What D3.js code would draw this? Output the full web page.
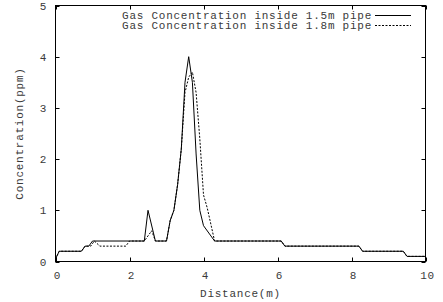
<!DOCTYPE html>
<html>
<head>
<meta charset="utf-8">
<script src="https://cdn.jsdelivr.net/npm/d3@7"></script>
<style>
  body { margin: 0; background: #fff; }
  text { font-family: "Liberation Mono", monospace; font-size: 11px; letter-spacing: 0.75px; fill: #3a3a3a; }
</style>
</head>
<body>
<svg id="chart" width="443" height="302"></svg>
<script>
// x in m, y in ppm
var pipe15X = [0, 0.1, 0.7, 0.8, 0.9, 1.0, 2.4, 2.5, 2.7, 3.0, 3.1, 3.2, 3.3, 3.4, 3.5, 3.6, 3.7, 3.8, 3.9, 4.0, 4.3, 6.1, 6.2, 8.2, 8.3, 9.4, 9.5, 10];
var pipe15Y = [0.05, 0.2, 0.2, 0.3, 0.3, 0.4, 0.4, 1.0, 0.4, 0.4, 0.8, 1.0, 1.5, 2.2, 3.5, 4.0, 3.5, 2.1, 1.0, 0.7, 0.4, 0.4, 0.3, 0.3, 0.2, 0.2, 0.1, 0.1];
var pipe18X = [0, 0.1, 0.7, 0.8, 0.95, 1.05, 1.2, 1.9, 2.0, 2.4, 2.6, 2.7, 3.0, 3.1, 3.2, 3.3, 3.4, 3.5, 3.6, 3.7, 3.8, 3.9, 4.0, 4.1, 4.3, 6.1, 6.2, 8.2, 8.3, 9.4, 9.5, 10];
var pipe18Y = [0.05, 0.2, 0.2, 0.3, 0.3, 0.4, 0.3, 0.3, 0.4, 0.4, 0.6, 0.4, 0.4, 0.8, 1.0, 1.5, 2.2, 3.3, 3.6, 3.7, 3.3, 2.4, 1.3, 1.05, 0.4, 0.4, 0.3, 0.3, 0.2, 0.2, 0.1, 0.1];
var xTicks = [0, 2, 4, 6, 8, 10];
var yTicks = [0, 1, 2, 3, 4, 5];
var seriesNames = ["Gas Concentration inside 1.5m pipe", "Gas Concentration inside 1.8m pipe"];

var mLeft = 55.5, mRight = 425.5, mTop = 5.5, mBottom = 261.5;
var svg = d3.select("#chart");

var x = d3.scaleLinear().domain([0, 10]).range([mLeft, mRight]);
var y = d3.scaleLinear().domain([0, 5]).range([mBottom, mTop]);

var tick = 4;
var axes = svg.append("g").attr("stroke", "#000").attr("stroke-width", 1);

// mirrored inward ticks like gnuplot
xTicks.forEach(function(t) {
  var px = Math.round(x(t)) + 0.5;
  axes.append("line").attr("x1", px).attr("x2", px).attr("y1", mBottom).attr("y2", mBottom - tick);
  axes.append("line").attr("x1", px).attr("x2", px).attr("y1", mTop).attr("y2", mTop + tick);
});
yTicks.forEach(function(t) {
  var py = Math.round(y(t)) + 0.5;
  axes.append("line").attr("y1", py).attr("y2", py).attr("x1", mLeft).attr("x2", mLeft + tick);
  axes.append("line").attr("y1", py).attr("y2", py).attr("x1", mRight).attr("x2", mRight - tick);
});

svg.selectAll("text.xt").data(xTicks).enter().append("text")
  .attr("class", "xt")
  .attr("x", function(d) { return x(d) + 2; })
  .attr("y", 279)
  .attr("text-anchor", "middle")
  .text(function(d) { return d; });

svg.selectAll("text.yt").data(yTicks).enter().append("text")
  .attr("class", "yt")
  .attr("x", 47)
  .attr("y", function(d) { return y(d) + 4; })
  .attr("text-anchor", "end")
  .text(function(d) { return d; });

svg.append("text")
  .attr("x", (mLeft + mRight) / 2)
  .attr("y", 297)
  .attr("text-anchor", "middle")
  .text("Distance(m)");

svg.append("text")
  .attr("transform", "translate(20," + ((mTop + mBottom) / 2) + ") rotate(-90)")
  .attr("text-anchor", "middle")
  .attr("dominant-baseline", "central")
  .text("Concentration(ppm)");

var line = d3.line()
  .x(function(d) { return x(d[0]); })
  .y(function(d) { return y(d[1]); });

var s15 = pipe15X.map(function(v, i) { return [v, pipe15Y[i]]; });
var s18 = pipe18X.map(function(v, i) { return [v, pipe18Y[i]]; });

svg.append("path").datum(s15)
  .attr("d", line)
  .attr("fill", "none")
  .attr("stroke", "#000")
  .attr("stroke-width", 1);

svg.append("path").datum(s18)
  .attr("d", line)
  .attr("fill", "none")
  .attr("stroke", "#000")
  .attr("stroke-width", 1)
  .attr("stroke-dasharray", "2,1.5");

// legend
var legend = svg.append("g");
seriesNames.forEach(function(name, i) {
  var ly = 15 + i * 10;
  legend.append("text")
    .attr("x", 372)
    .attr("y", ly + 4)
    .attr("text-anchor", "end")
    .text(name);
  legend.append("line")
    .attr("x1", 375).attr("x2", 411)
    .attr("y1", Math.round(ly) + 0.5).attr("y2", Math.round(ly) + 0.5)
    .attr("stroke", "#000")
    .attr("stroke-width", 1)
    .attr("stroke-dasharray", i === 0 ? null : "2,1.5");
});

// border
axes.append("rect")
  .attr("x", mLeft).attr("y", mTop)
  .attr("width", mRight - mLeft).attr("height", mBottom - mTop)
  .attr("fill", "none");
</script>
</body>
</html>
